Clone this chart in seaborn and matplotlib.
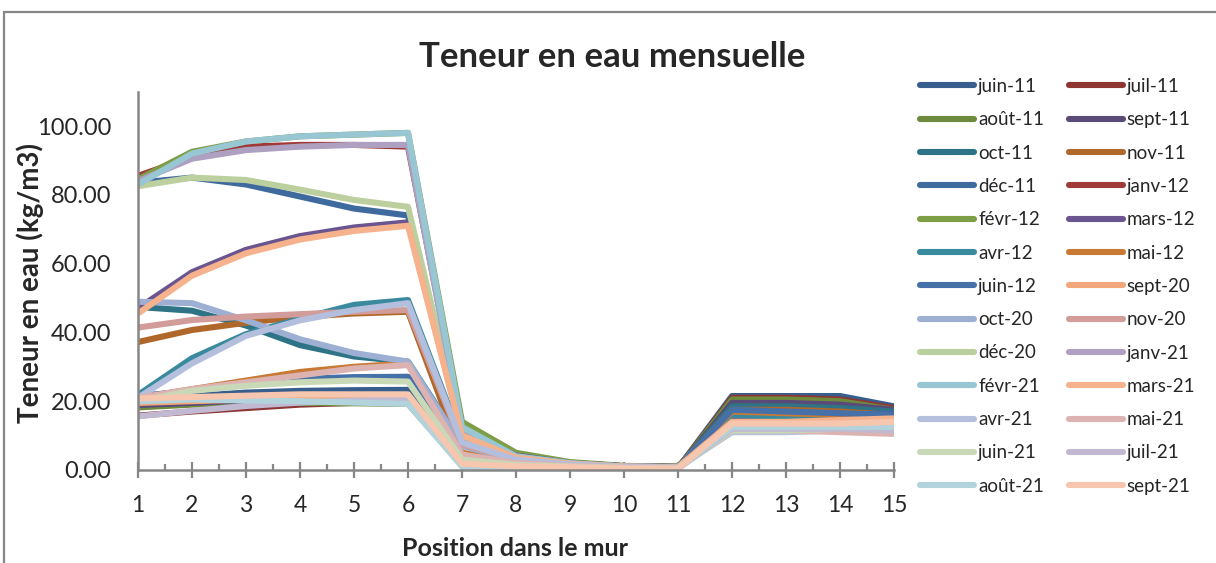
import matplotlib
matplotlib.use("Agg")
import matplotlib.pyplot as plt
from matplotlib.lines import Line2D
from matplotlib.patches import Rectangle
from matplotlib.ticker import MultipleLocator, FixedLocator
import seaborn as sns
import pandas as pd

# Months (series) in legend order
months = ["juin-11", "juil-11", "août-11", "sept-11", "oct-11", "nov-11",
          "déc-11", "janv-12", "févr-12", "mars-12", "avr-12", "mai-12",
          "juin-12", "sept-20", "oct-20", "nov-20", "déc-20", "janv-21",
          "févr-21", "mars-21", "avr-21", "mai-21", "juin-21", "juil-21",
          "août-21", "sept-21"]

positions = list(range(1, 16))

# Water content (kg/m3) at each position through the wall, one list per month
juin_11 = [20.5, 21.5, 22.5, 23.0, 23.2, 23.3, 2.0, 1.2, 0.9, 0.6, 0.5, 21.5, 21.5, 21.5, 18.5]
juil_11 = [15.8, 17.0, 18.0, 19.0, 19.5, 19.6, 1.5, 1.0, 0.8, 0.6, 0.5, 21.0, 21.0, 20.5, 18.0]
aout_11 = [18.2, 19.0, 19.4, 19.5, 19.4, 19.2, 1.6, 1.1, 0.8, 0.6, 0.5, 20.5, 20.5, 20.0, 17.5]
sept_11 = [18.9, 19.5, 20.3, 20.8, 21.0, 21.0, 1.8, 1.2, 0.9, 0.6, 0.5, 19.5, 19.5, 19.0, 17.5]
oct_11 = [47.4, 46.3, 42.0, 36.3, 33.0, 31.5, 7.5, 3.0, 1.6, 0.9, 0.7, 18.5, 18.5, 18.0, 17.0]
nov_11 = [37.2, 40.7, 42.8, 44.5, 45.5, 46.0, 3.9, 2.5, 1.5, 0.9, 0.7, 17.5, 17.5, 17.0, 16.0]
dec_11 = [83.5, 85.0, 83.0, 79.5, 76.0, 74.0, 11.5, 4.0, 2.0, 1.1, 0.9, 17.0, 16.5, 16.0, 16.5]
janv_12 = [85.5, 91.0, 94.0, 94.5, 94.5, 94.0, 13.0, 4.5, 2.1, 1.1, 0.9, 16.0, 16.0, 15.5, 15.5]
fevr_12 = [84.5, 92.5, 95.5, 97.0, 97.5, 98.0, 14.0, 5.0, 2.3, 1.2, 1.0, 16.5, 16.0, 15.5, 15.0]
mars_12 = [47.0, 57.5, 64.0, 68.0, 70.5, 72.0, 10.5, 4.2, 2.0, 1.1, 0.9, 15.5, 15.5, 15.0, 15.0]
avr_12 = [21.8, 32.5, 39.5, 44.0, 48.0, 49.4, 8.5, 3.5, 1.8, 1.0, 0.8, 16.0, 15.5, 15.0, 14.5]
mai_12 = [21.0, 23.5, 26.0, 28.5, 30.0, 31.0, 5.0, 2.5, 1.4, 0.8, 0.7, 17.0, 16.5, 16.0, 15.0]
juin_12 = [21.5, 23.0, 25.0, 26.5, 27.0, 27.1, 3.0, 1.8, 1.1, 0.7, 0.6, 17.5, 17.0, 16.5, 16.0]
sept_20 = [19.5, 20.0, 20.5, 21.0, 21.0, 21.0, 1.5, 1.0, 0.7, 0.5, 0.4, 13.5, 13.5, 13.0, 11.0]
oct_20 = [48.9, 48.5, 43.5, 38.0, 34.0, 31.5, 7.0, 2.8, 1.5, 0.8, 0.6, 12.0, 12.0, 12.0, 11.5]
nov_20 = [41.4, 43.6, 44.6, 45.3, 46.0, 46.5, 7.5, 2.8, 1.5, 0.8, 0.6, 12.0, 12.0, 11.5, 11.0]
dec_20 = [82.5, 85.0, 84.3, 81.5, 78.5, 76.5, 11.0, 3.8, 1.9, 1.0, 0.8, 12.5, 12.5, 12.5, 13.5]
janv_21 = [84.0, 90.5, 93.0, 94.0, 94.5, 94.5, 11.5, 3.8, 1.8, 1.0, 0.8, 12.0, 12.0, 12.0, 12.5]
fevr_21 = [83.0, 92.0, 95.5, 97.0, 97.5, 98.0, 12.5, 4.0, 2.0, 1.0, 0.8, 13.0, 13.0, 13.0, 14.0]
mars_21 = [45.5, 56.5, 63.0, 67.0, 69.5, 71.0, 10.0, 3.6, 1.8, 1.0, 0.8, 14.0, 14.0, 14.5, 15.0]
avr_21 = [21.0, 31.0, 39.0, 43.5, 46.5, 48.5, 8.0, 3.0, 1.6, 0.9, 0.7, 11.0, 11.0, 11.5, 12.5]
mai_21 = [21.0, 23.5, 25.5, 27.5, 29.5, 30.5, 4.5, 2.0, 1.2, 0.7, 0.6, 11.5, 11.5, 11.0, 10.5]
juin_21 = [20.0, 23.0, 24.5, 25.5, 26.0, 25.7, 3.0, 1.5, 1.0, 0.6, 0.5, 11.5, 11.5, 12.0, 12.5]
juil_21 = [15.6, 17.2, 18.6, 19.6, 20.2, 20.6, 1.5, 1.0, 0.7, 0.5, 0.4, 12.0, 12.0, 12.0, 11.5]
aout_21 = [20.0, 20.5, 20.2, 20.0, 19.6, 19.2, 1.0, 0.8, 0.6, 0.4, 0.4, 12.5, 12.5, 12.5, 12.5]
sept_21 = [20.8, 21.2, 21.6, 22.0, 22.0, 22.0, 1.8, 1.1, 0.8, 0.5, 0.4, 13.5, 13.5, 13.5, 14.0]

series = [juin_11, juil_11, aout_11, sept_11, oct_11, nov_11, dec_11, janv_12,
          fevr_12, mars_12, avr_12, mai_12, juin_12, sept_20, oct_20, nov_20,
          dec_20, janv_21, fevr_21, mars_21, avr_21, mai_21, juin_21, juil_21,
          aout_21, sept_21]

colors = ["#375E8C", "#8E3634", "#6E8B3D", "#5A4A78", "#2F7486", "#B0672A",
          "#3F6A9E", "#A03A38", "#7E9E45", "#6A5590", "#3A8A9E", "#C87A35",
          "#4670A8", "#F2A77A", "#9DAFD3", "#D19C9A", "#BCCF9E", "#ADA0C1",
          "#98C6D3", "#F6B28D", "#B3BFDD", "#DDB3B2", "#C9D8B7", "#C1B8D2",
          "#B2D3DC", "#F6C6AE"]

rows = []
for m, vals in zip(months, series):
    for p, v in zip(positions, vals):
        rows.append({"Position": p, "Teneur": v, "Mois": m})
df = pd.DataFrame(rows)

sns.set_theme(style="white")
plt.rcParams["font.family"] = ["Lato", "DejaVu Sans"]

fig = plt.figure(figsize=(12.16, 5.63), dpi=100)
ax = fig.add_axes([138 / 1216, 1 - 470 / 563, (894 - 138) / 1216, (470 - 91.6) / 563])

palette = dict(zip(months, colors))
sns.lineplot(data=df, x="Position", y="Teneur", hue="Mois", hue_order=months,
             palette=palette, linewidth=4.4, ax=ax, legend=False, sort=False)

ax.set_xlim(1, 15)
ax.set_ylim(0, 110)
ax.set_xlabel("")
ax.set_ylabel("")
ax.xaxis.set_major_locator(FixedLocator(positions))
ax.xaxis.set_minor_locator(MultipleLocator(0.5))
ax.yaxis.set_major_locator(FixedLocator([0, 20, 40, 60, 80, 100]))
ax.set_yticklabels([f"{v:.2f}" for v in [0, 20, 40, 60, 80, 100]])

for side in ["top", "right"]:
    ax.spines[side].set_visible(False)
for side in ["left", "bottom"]:
    ax.spines[side].set_color("#868686")
    ax.spines[side].set_linewidth(1.8)

ax.tick_params(axis="x", which="major", direction="inout", length=12,
               width=1.6, color="#868686", labelsize=16.5, pad=12, bottom=True)
ax.tick_params(axis="x", which="minor", direction="in", length=4.5,
               width=1.6, color="#868686", bottom=True)
ax.tick_params(axis="y", which="both", length=0, labelsize=17, pad=19, left=True)

# Chart title and axis titles
fig.text(612 / 1216, 1 - 57 / 563, "Teneur en eau mensuelle", ha="center",
         va="center", fontsize=25, fontweight="bold")
fig.text(30 / 1216, 1 - 283 / 563, "Teneur en eau (kg/m3)", ha="center",
         va="center", rotation=90, fontsize=20, fontweight="bold")
fig.text(515 / 1216, 1 - 549 / 563, "Position dans le mur", ha="center",
         va="center", fontsize=18, fontweight="bold")

# Two-column legend filled row by row
handles = [Line2D([0], [0], color=c, linewidth=4.4, solid_capstyle="round")
           for c in colors]
order = list(range(0, len(months), 2)) + list(range(1, len(months), 2))
leg = fig.legend([handles[i] for i in order], [months[i] for i in order],
                 ncol=2, loc="upper left",
                 bbox_to_anchor=(920 / 1216, 1 - 78 / 563),
                 frameon=False, fontsize=13.5, handlelength=2.9,
                 handletextpad=0.2, columnspacing=1.3, labelspacing=0.87,
                 borderpad=0, borderaxespad=0)

# Outer chart frame
fig.patches.append(Rectangle((4 / 1216, -0.02), 1.1, 1 - 12 / 563 + 0.02,
                             transform=fig.transFigure, fill=False,
                             edgecolor="#868686", linewidth=1.6))

fig.savefig("out.png", dpi=100)
